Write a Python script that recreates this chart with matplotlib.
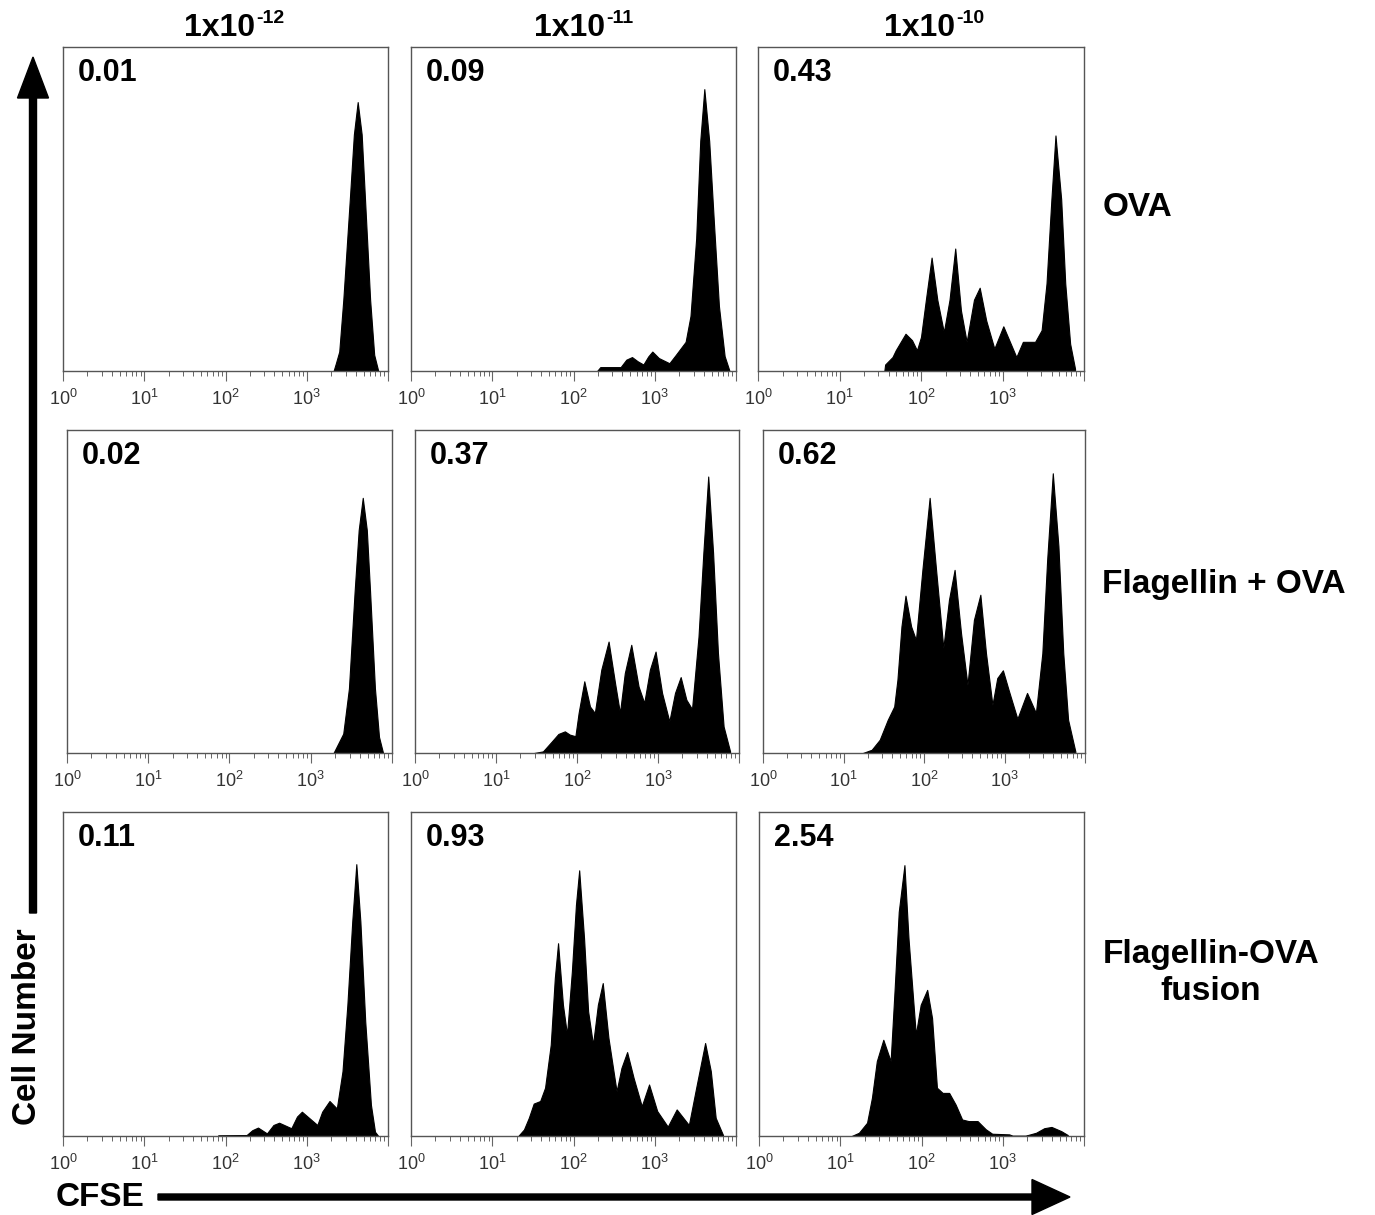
import numpy as np
import matplotlib
matplotlib.use('Agg')
import matplotlib.pyplot as plt
from matplotlib.patches import FancyArrow
from matplotlib.ticker import LogLocator, NullFormatter

plt.rcParams['font.family'] = ['Liberation Sans', 'DejaVu Sans']
plt.rcParams['mathtext.fontset'] = 'custom'
plt.rcParams['mathtext.rm'] = 'Liberation Sans'

# column / row labels
concentrations = ['-12', '-11', '-10']
groups = ['OVA', 'Flagellin + OVA', 'Flagellin-OVA\nfusion']
# % divided values shown in each panel
percent = [['0.01', '0.09', '0.43'],
           ['0.02', '0.37', '0.62'],
           ['0.11', '0.93', '2.54']]

# histogram outlines: log10(CFSE) and height (fraction of panel)
ova_12_x = [3.33, 3.36, 3.40, 3.45, 3.53, 3.58, 3.627, 3.676, 3.717, 3.78, 3.83, 3.88]
ova_12_y = [0, 0.025, 0.06, 0.22, 0.53, 0.73, 0.83, 0.73, 0.53, 0.22, 0.05, 0]

ova_11_x = [2.29, 2.33, 2.37, 2.58, 2.65, 2.72, 2.79, 2.86, 2.92, 2.97, 3.05, 3.18,
            3.26, 3.38, 3.44, 3.51, 3.56, 3.61, 3.67, 3.73, 3.79, 3.86, 3.92]
ova_11_y = [0, 0.012, 0.012, 0.012, 0.035, 0.043, 0.03, 0.02, 0.045, 0.06, 0.04, 0.024,
            0.05, 0.09, 0.17, 0.41, 0.71, 0.87, 0.71, 0.45, 0.2, 0.046, 0.0]

ova_10_x = [1.55, 1.56, 1.65, 1.69, 1.81, 1.89, 1.95, 2.0, 2.06, 2.13, 2.2, 2.28, 2.35,
            2.42, 2.49, 2.56, 2.65, 2.72, 2.80, 2.90, 3.01, 3.17, 3.25, 3.40, 3.48, 3.54,
            3.60, 3.65, 3.72, 3.77, 3.83, 3.89]
ova_10_y = [0, 0.02, 0.043, 0.064, 0.115, 0.095, 0.064, 0.105, 0.22, 0.35, 0.22, 0.12, 0.22,
            0.378, 0.187, 0.09, 0.22, 0.257, 0.156, 0.069, 0.138, 0.043, 0.09, 0.09, 0.126, 0.27,
            0.53, 0.727, 0.53, 0.27, 0.084, 0.007]

mix_12_x = [3.28, 3.32, 3.40, 3.47, 3.54, 3.59, 3.64, 3.69, 3.73, 3.79, 3.84, 3.89]
mix_12_y = [0, 0.02, 0.06, 0.2, 0.5, 0.69, 0.79, 0.69, 0.5, 0.2, 0.05, 0]

mix_11_x = [1.47, 1.58, 1.69, 1.77, 1.85, 1.91, 1.98, 2.02, 2.09, 2.16, 2.22, 2.30, 2.39,
            2.47, 2.53, 2.59, 2.67, 2.76, 2.83, 2.90, 2.97, 3.05, 3.14, 3.21, 3.28, 3.35,
            3.42, 3.50, 3.56, 3.62, 3.68, 3.74, 3.81, 3.89]
mix_11_y = [0, 0.005, 0.036, 0.059, 0.067, 0.057, 0.052, 0.124, 0.222, 0.144, 0.124, 0.258, 0.345,
            0.216, 0.124, 0.247, 0.335, 0.206, 0.155, 0.258, 0.314, 0.186, 0.098, 0.186, 0.235, 0.165,
            0.136, 0.36, 0.62, 0.856, 0.62, 0.31, 0.082, 0.005]

mix_10_x = [1.24, 1.35, 1.45, 1.55, 1.63, 1.67, 1.72, 1.77, 1.84, 1.90, 1.98, 2.07, 2.15,
            2.24, 2.31, 2.38, 2.46, 2.54, 2.62, 2.70, 2.77, 2.85, 2.91, 2.98, 3.05, 3.16,
            3.28, 3.39, 3.47, 3.53, 3.60, 3.67, 3.73, 3.79, 3.88]
mix_10_y = [0, 0.01, 0.041, 0.103, 0.144, 0.227, 0.392, 0.487, 0.392, 0.35, 0.567, 0.79, 0.567,
            0.325, 0.474, 0.567, 0.371, 0.211, 0.412, 0.49, 0.309, 0.149, 0.232, 0.256, 0.196, 0.106,
            0.186, 0.124, 0.309, 0.598, 0.866, 0.64, 0.309, 0.103, 0.005]

fus_12_x = [1.91, 2.26, 2.33, 2.40, 2.51, 2.59, 2.66, 2.81, 2.88, 2.94, 3.13, 3.19, 3.28,
            3.37, 3.44, 3.50, 3.56, 3.61, 3.66, 3.72, 3.79, 3.84, 3.88]
fus_12_y = [0.002, 0.003, 0.018, 0.026, 0.008, 0.034, 0.041, 0.024, 0.06, 0.075, 0.034, 0.075, 0.108,
            0.085, 0.2, 0.405, 0.662, 0.839, 0.662, 0.353, 0.096, 0.013, 0]

fus_11_x = [1.32, 1.39, 1.45, 1.51, 1.59, 1.65, 1.72, 1.77, 1.81, 1.87, 1.92, 1.98, 2.03,
            2.07, 2.13, 2.18, 2.24, 2.30, 2.36, 2.43, 2.53, 2.59, 2.66, 2.74, 2.84, 2.93,
            3.03, 3.16, 3.27, 3.42, 3.51, 3.62, 3.69, 3.75, 3.84]
fus_11_y = [0, 0.02, 0.056, 0.1, 0.108, 0.149, 0.282, 0.487, 0.595, 0.405, 0.313, 0.508, 0.713,
            0.82, 0.61, 0.385, 0.282, 0.405, 0.472, 0.303, 0.138, 0.21, 0.259, 0.179, 0.092, 0.159,
            0.077, 0.029, 0.082, 0.034, 0.149, 0.287, 0.2, 0.056, 0.003]

fus_10_x = [1.14, 1.23, 1.33, 1.39, 1.45, 1.53, 1.62, 1.67, 1.72, 1.79, 1.84, 1.93, 1.99,
            2.07, 2.13, 2.19, 2.26, 2.34, 2.42, 2.50, 2.58, 2.69, 2.79, 2.87, 3.08, 3.12,
            3.28, 3.41, 3.51, 3.60, 3.72, 3.80]
fus_10_y = [0, 0.01, 0.041, 0.118, 0.231, 0.297, 0.231, 0.456, 0.692, 0.836, 0.61, 0.313, 0.405,
            0.451, 0.364, 0.149, 0.133, 0.133, 0.097, 0.051, 0.046, 0.046, 0.021, 0.007, 0.005, 0.001,
            0.001, 0.01, 0.024, 0.028, 0.015, 0.003]

hists = [[(ova_12_x, ova_12_y), (ova_11_x, ova_11_y), (ova_10_x, ova_10_y)],
         [(mix_12_x, mix_12_y), (mix_11_x, mix_11_y), (mix_10_x, mix_10_y)],
         [(fus_12_x, fus_12_y), (fus_11_x, fus_11_y), (fus_10_x, fus_10_y)]]

W, H = 1375, 1215
fig = plt.figure(figsize=(W / 100, H / 100), dpi=100)

# overlay in pixel coordinates for arrows and labels
over = fig.add_axes([0, 0, 1, 1])
over.set_xlim(0, W)
over.set_ylim(H, 0)
over.axis('off')

# panel boxes in pixels: (left, right) per row/col, (top, bottom) per row
col_px = [[(63, 388), (411, 736), (758, 1084)],
          [(67, 392), (415, 739), (763, 1085)],
          [(63, 388), (411, 736), (759, 1084)]]
row_px = [(47, 371), (430, 753), (812, 1136)]
title_split = [255, 605, 955]
label_pos = [(1103, 208, 'left'), (1102, 585, 'left'), (1211, 973, 'center')]

for r in range(3):
    top, bot = row_px[r]
    for c in range(3):
        left, right = col_px[r][c]
        ax = fig.add_axes([left / W, 1 - bot / H, (right - left) / W, (bot - top) / H])
        lx, hy = hists[r][c]
        cfse = 10 ** np.array(lx)
        ax.fill_between(cfse, hy, 0, color='black', lw=0.8, edgecolor='black')
        ax.set_xscale('log')
        ax.set_xlim(1, 1e4)
        ax.set_ylim(0, 1)
        ax.set_yticks([])
        ax.set_xticks([1, 10, 100, 1000, 10000])
        ax.set_xticklabels([r'$10^0$', r'$10^1$', r'$10^2$', r'$10^3$', ''],
                           fontsize=13, color='#333333')
        ax.xaxis.set_minor_locator(LogLocator(base=10, subs=np.arange(2, 10)))
        ax.xaxis.set_minor_formatter(NullFormatter())
        ax.tick_params(axis='x', which='major', direction='out', length=7, width=0.8,
                       color='#666666', pad=6)
        ax.tick_params(axis='x', which='minor', direction='out', length=3.5, width=0.7,
                       color='#666666')
        for sp in ax.spines.values():
            sp.set_color('#555555')
            sp.set_linewidth(1.0)
        ax.text(0.045, 0.965, percent[r][c], transform=ax.transAxes, ha='left', va='top',
                fontsize=22, fontweight='bold')
    lx, ly, lha = label_pos[r]
    over.text(lx, ly, groups[r], ha=lha, va='center', fontsize=24, fontweight='bold',
              multialignment='center', linespacing=1.25)

# concentration titles with raised exponent
for c in range(3):
    over.text(title_split[c], 36, '1x10', ha='right', va='baseline', fontsize=23,
              fontweight='bold')
    over.text(title_split[c] + 1, 23, concentrations[c], ha='left', va='baseline',
              fontsize=14, fontweight='bold')

# axis arrows
over.add_patch(FancyArrow(33, 913, 0, -856, width=7, head_width=31, head_length=41,
                          length_includes_head=True, color='black'))
over.text(28, 1027, 'Cell Number', rotation=90, ha='center', va='center',
          fontsize=24, fontweight='bold')
over.add_patch(FancyArrow(158, 1197, 912, 0, width=6, head_width=35, head_length=38,
                          length_includes_head=True, color='black'))
over.text(100, 1198, 'CFSE', ha='center', va='center', fontsize=24, fontweight='bold')

fig.savefig('out.png', dpi=100)
